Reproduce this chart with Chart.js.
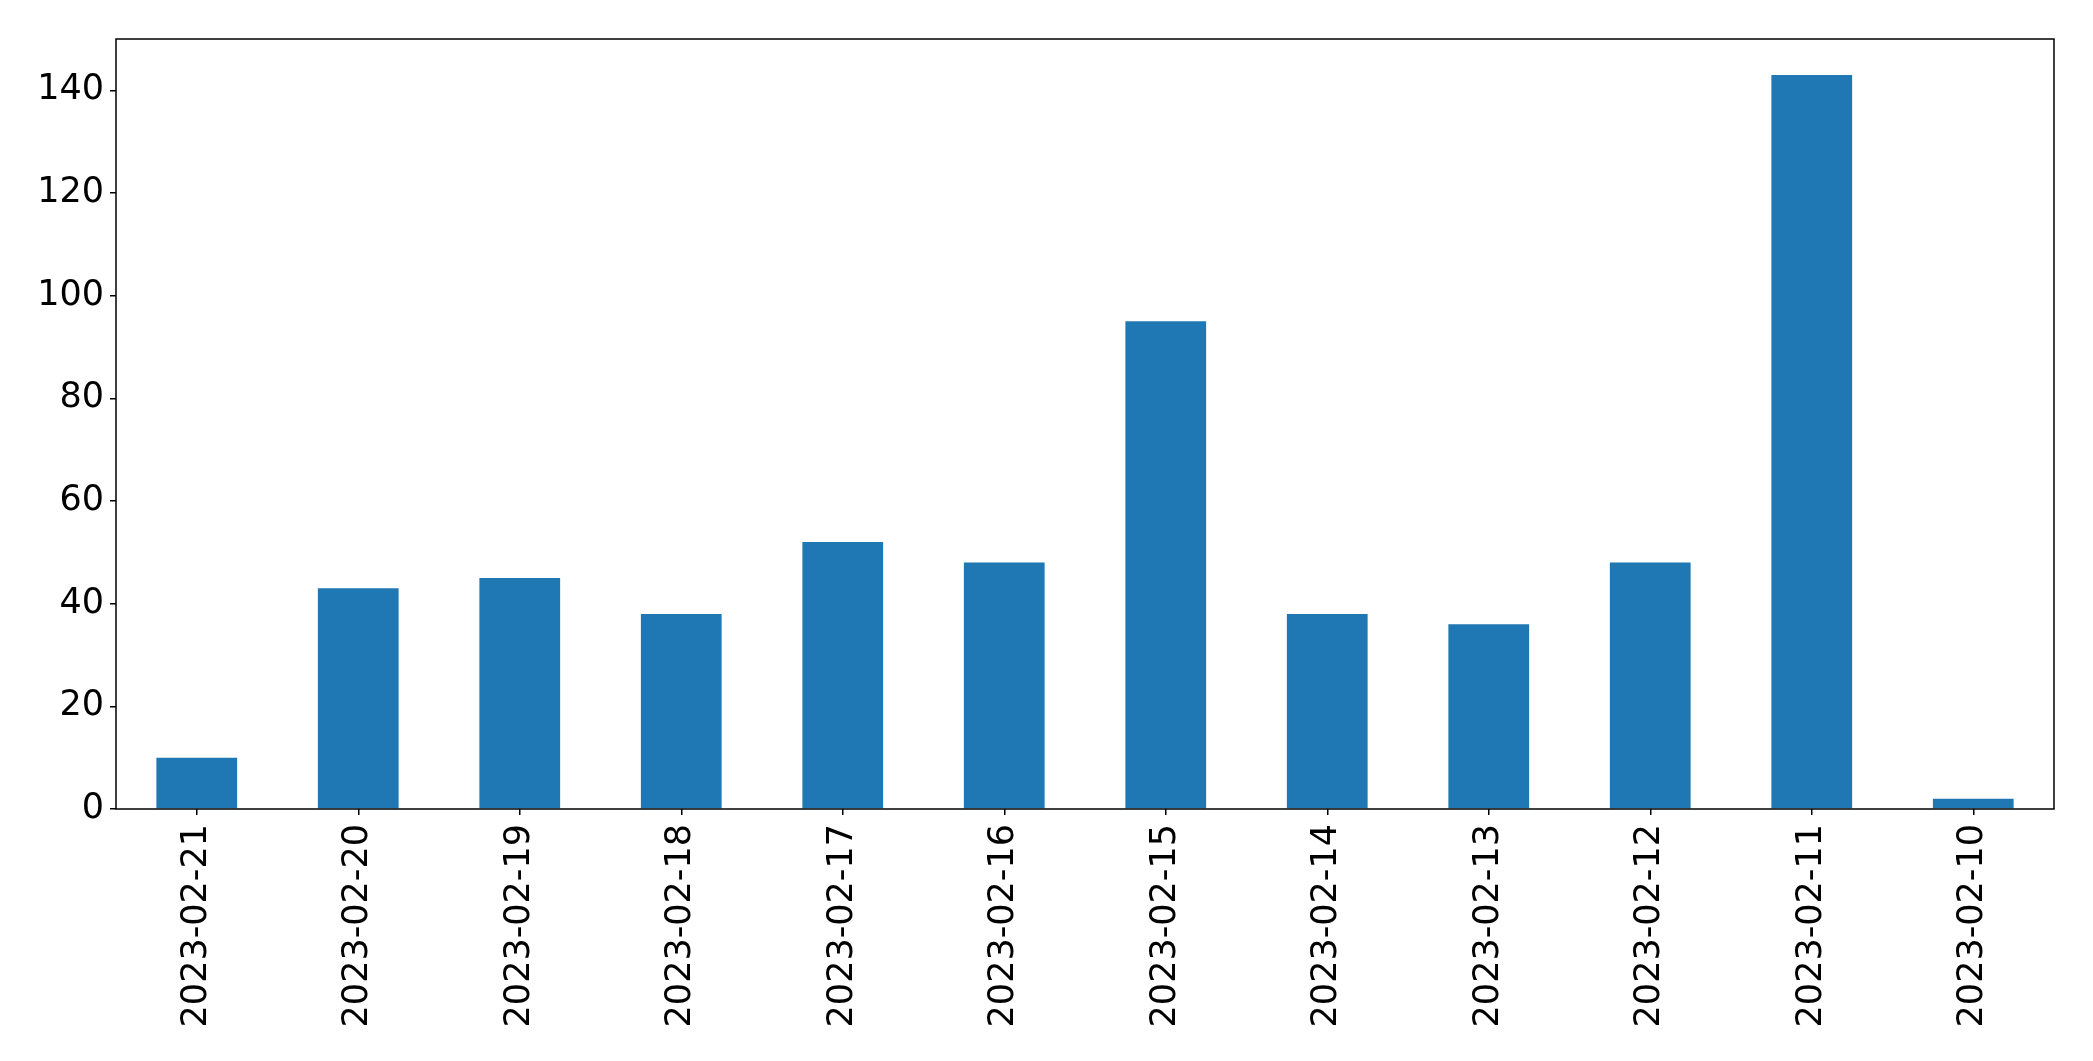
<!DOCTYPE html>
<html>
<head>
<meta charset="utf-8">
<script src="https://cdn.jsdelivr.net/npm/chart.js@4"></script>
<style>
  body { margin: 0; background: white; }
  #wrap { width: 2093px; height: 1061px; }
</style>
</head>
<body>
<div id="wrap"><canvas id="myChart" width="2093" height="1061"></canvas></div>
<script>
const fechas = ["2023-02-21", "2023-02-20", "2023-02-19", "2023-02-18", "2023-02-17", "2023-02-16",
  "2023-02-15", "2023-02-14", "2023-02-13", "2023-02-12", "2023-02-11", "2023-02-10"];
const valores = [10, 43, 45, 38, 52, 48, 95, 38, 36, 48, 143, 2];
const ticksY = [0, 20, 40, 60, 80, 100, 120, 140];

const fuente = { family: "DejaVu Sans", size: 35 };

//plugin que dibuja el marco alrededor del area de la grafica
const marco = {
  id: "marco",
  afterDraw(chart) {
    const a = chart.chartArea;
    const ctx = chart.ctx;
    ctx.save();
    ctx.strokeStyle = "black";
    ctx.lineWidth = 1.5;
    ctx.strokeRect(a.left, a.top, a.right - a.left, a.bottom - a.top);
    ctx.restore();
  }
};

const config = {
  type: "bar",
  data: {
    labels: fechas,
    datasets: [{
      data: valores,
      backgroundColor: "#1f77b4",
      categoryPercentage: 1,
      barPercentage: 0.5
    }]
  },
  options: {
    responsive: false,
    animation: false,
    layout: { padding: { top: 39, right: 39, left: 0, bottom: 0 } },
    plugins: { legend: { display: false }, tooltip: { enabled: false } },
    scales: {
      x: {
        offset: true,
        grid: { display: true, drawOnChartArea: false, offset: false, tickLength: 6, color: "black", lineWidth: 1.5 },
        border: { display: false },
        ticks: { font: fuente, color: "black", minRotation: 90, maxRotation: 90, padding: 9, autoSkip: false },
        afterFit(scale) { scale.height = 252; }
      },
      y: {
        min: 0,
        max: 150,
        grid: { display: true, drawOnChartArea: false, tickLength: 6, color: "black", lineWidth: 1.5 },
        border: { display: false },
        ticks: { font: fuente, color: "black", padding: 6 },
        afterBuildTicks(scale) { scale.ticks = ticksY.map(v => ({ value: v })); },
        afterFit(scale) { scale.width = 116; }
      }
    }
  },
  plugins: [marco]
};

new Chart(document.getElementById("myChart"), config);
</script>
</body>
</html>
